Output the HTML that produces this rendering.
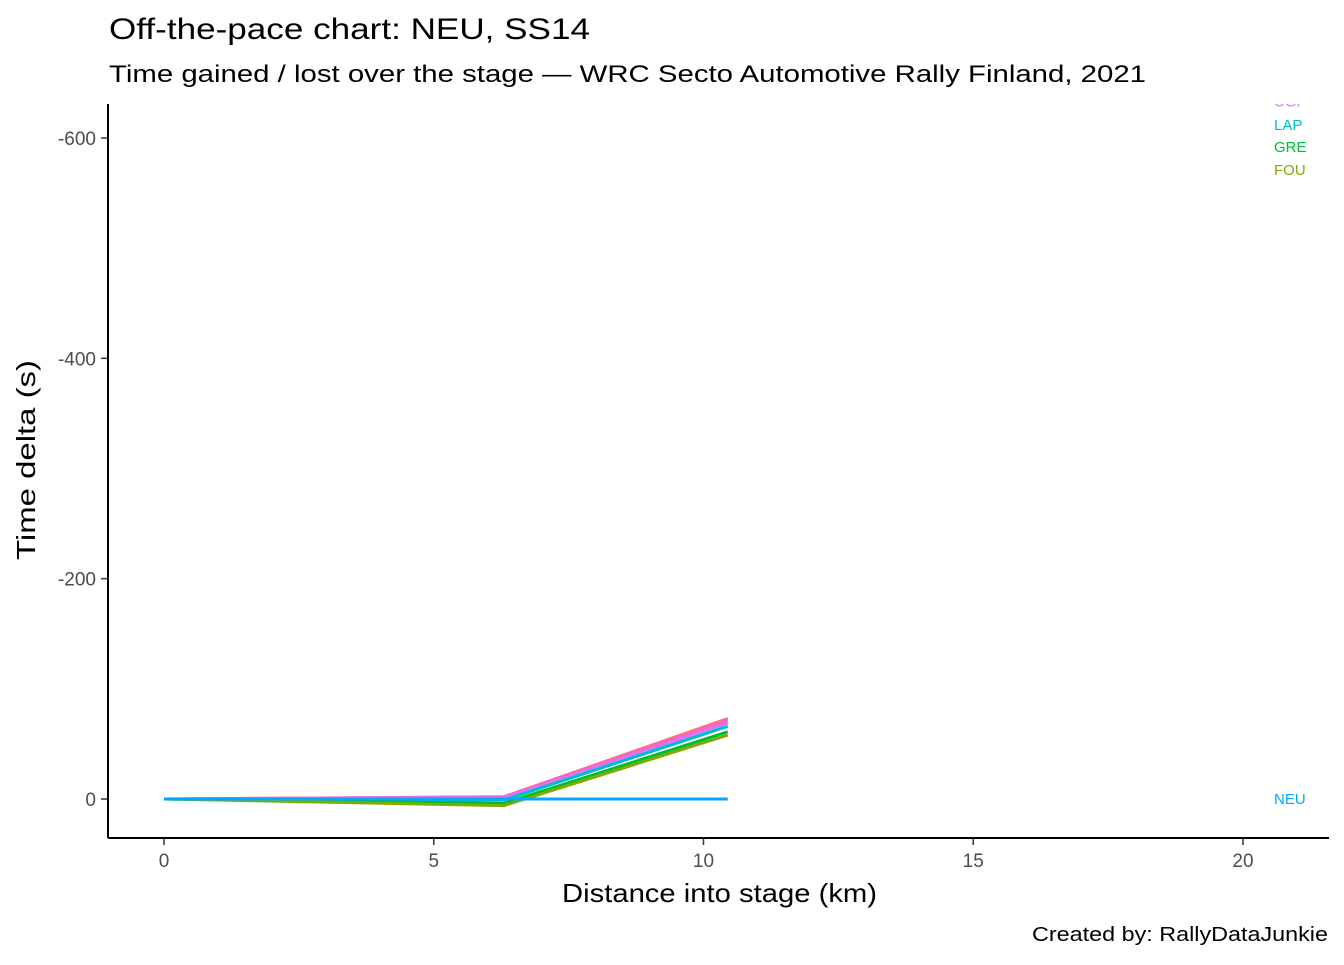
<!DOCTYPE html>
<html><head><meta charset="utf-8"><style>
body{margin:0;background:#fff;font-family:"Liberation Sans",Arial,sans-serif}
svg text{font-family:"Liberation Sans",Arial,sans-serif}
</style></head><body>
<svg id="c" width="1344" height="960">
<defs><clipPath id="pc"><rect x="109" y="104" width="1220" height="734"/></clipPath></defs>
<text x="109" y="39" font-size="30" textLength="481" lengthAdjust="spacingAndGlyphs" fill="#000">Off-the-pace chart: NEU, SS14</text>
<text x="109" y="82" font-size="24" textLength="1037" lengthAdjust="spacingAndGlyphs" fill="#000">Time gained / lost over the stage — WRC Secto Automotive Rally Finland, 2021</text>
<g id="axes"></g>
<g id="series" clip-path="url(#pc)"></g>
<line x1="108" y1="104" x2="108" y2="838" stroke="#000" stroke-width="2"/>
<line x1="108" y1="838" x2="1329" y2="838" stroke="#000" stroke-width="2"/>
<text x="562" y="902" font-size="26" textLength="315" lengthAdjust="spacingAndGlyphs">Distance into stage (km)</text>
<text transform="translate(35,560) rotate(-90)" font-size="26" textLength="200" lengthAdjust="spacingAndGlyphs">Time delta (s)</text>
<text x="1032" y="941" font-size="20" textLength="296" lengthAdjust="spacingAndGlyphs">Created by: RallyDataJunkie</text>
</svg>
<script>
const xTicks=[0,5,10,15,20];
const yTicks=[0,-200,-400,-600];
const distances=[0,6.3,10.45];
const seriesNames=["RED","PIN","UGP","LAP","GRE","FOU","NEU"];
const seriesColors=["#F8766D","#FF61C3","#DB72FB","#00BFC4","#00BA38","#7CAE00","#00A9FF"];
const seriesValues=[[0,-2,-73],[0,-2,-71],[0,-1,-69],[0,1,-66],[0,4,-61],[0,6,-58],[0,0,0]];
const labelNames=["UGP","LAP","GRE","FOU","NEU"];
const labelColors=["#DB72FB","#00BFC4","#00BA38","#7CAE00","#00A9FF"];
const labelValues=[-633,-612,-592,-571,0];
const xs=v=>164+v*53.95;
const ys=v=>799+v*1.1017;
const NS="http://www.w3.org/2000/svg";
const ax=document.getElementById('axes'),sg=document.getElementById('series');
function mk(t,a,p){const e=document.createElementNS(NS,t);for(const k in a)e.setAttribute(k,a[k]);p.appendChild(e);return e;}
xTicks.forEach(t=>{
 const l=mk('line',{x1:xs(t),x2:xs(t),y1:838,y2:845,stroke:'#333','stroke-width':1.5},ax);
 
 
 const tx=mk('text',{x:xs(t),y:867,'font-size':19,fill:'#4d4d4d','text-anchor':'middle'},ax);tx.textContent=t;
 
 
});
yTicks.forEach(t=>{
 const l=mk('line',{x1:101,x2:108,y1:ys(t),y2:ys(t),stroke:'#333','stroke-width':1.5},ax);
 
 
 const tx=mk('text',{x:96,y:ys(t)+7,'font-size':19,fill:'#4d4d4d','text-anchor':'end'},ax);tx.textContent=t;
 
 
});
seriesValues.forEach((vals,i)=>{
 const p=mk('polyline',{points:vals.map((v,j)=>xs(distances[j])+','+ys(v)).join(' '),fill:'none',stroke:seriesColors[i],'stroke-width':3},sg);
 
 
});
labelNames.forEach((n,i)=>{
 const t=mk('text',{x:1274,y:ys(labelValues[i])+5,'font-size':15,fill:labelColors[i]},sg);t.textContent=n;
 
 
});
</script>
</body></html>
